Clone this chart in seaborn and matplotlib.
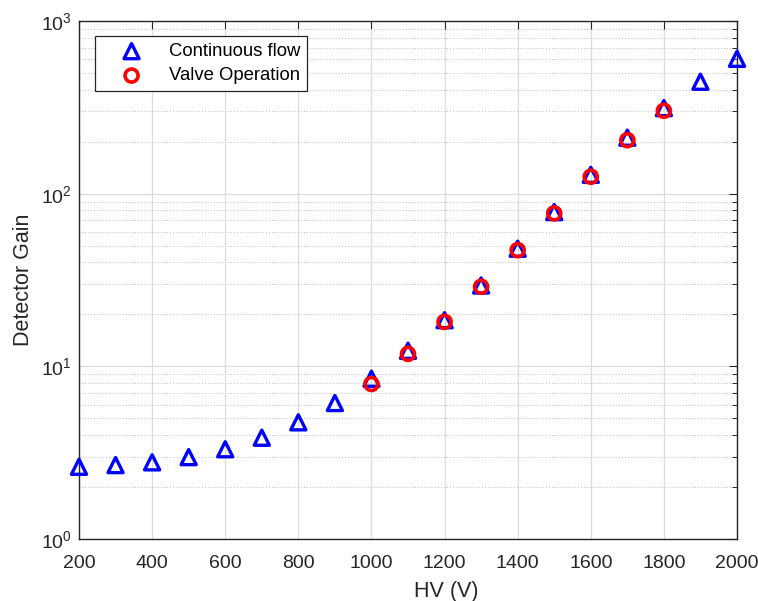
import matplotlib
matplotlib.use("Agg")
import matplotlib.pyplot as plt
import matplotlib.ticker as mticker
import seaborn as sns
import pandas as pd

# Detector gain versus high voltage
hv_continuous = [200, 300, 400, 500, 600, 700, 800, 900, 1000, 1100,
                 1200, 1300, 1400, 1500, 1600, 1700, 1800, 1900, 2000]
gain_continuous = [2.62, 2.68, 2.78, 2.98, 3.31, 3.86, 4.74, 6.13, 8.48, 12.3,
                   18.5, 29.4, 48.0, 78.2, 128.6, 211, 313, 445, 604]

hv_valve = [1000, 1100, 1200, 1300, 1400, 1500, 1600, 1700, 1800]
gain_valve = [7.9, 11.8, 18.1, 28.9, 47.1, 76.9, 125.3, 204, 302]

x_ticks = [200, 400, 600, 800, 1000, 1200, 1400, 1600, 1800, 2000]

df_cont = pd.DataFrame({"HV": hv_continuous, "Gain": gain_continuous})
df_valve = pd.DataFrame({"HV": hv_valve, "Gain": gain_valve})

sns.set_theme(style="white")
plt.rcParams["font.family"] = ["Liberation Sans", "DejaVu Sans"]
plt.rcParams["mathtext.fontset"] = "custom"
plt.rcParams["mathtext.rm"] = "Liberation Sans"

text_color = "#262626"
axis_color = "#262626"

fig = plt.figure(figsize=(7.58, 6.01), dpi=100)
ax = fig.add_axes([79 / 758, 62 / 601, (737 - 79) / 758, (539 - 21) / 601])

sns.scatterplot(data=df_cont, x="HV", y="Gain", ax=ax, marker="^", s=118,
                facecolors="none", edgecolor="#0000ff", linewidth=2.4,
                label="Continuous flow", zorder=3, clip_on=False)
sns.scatterplot(data=df_valve, x="HV", y="Gain", ax=ax, marker="o", s=88,
                facecolors="none", edgecolor="#ff0000", linewidth=2.6,
                label="Valve Operation", zorder=4, clip_on=False)

ax.set_yscale("log")
ax.set_xlim(200, 2000)
ax.set_ylim(1, 1000)
ax.set_xticks(x_ticks)
ax.set_xticklabels([str(v) for v in x_ticks])
ax.yaxis.set_major_locator(mticker.LogLocator(base=10, numticks=10))
ax.yaxis.set_minor_locator(mticker.LogLocator(base=10, subs=range(2, 10), numticks=20))
ax.yaxis.set_minor_formatter(mticker.NullFormatter())

ax.grid(True, which="major", axis="both", color="#dcdcdc", linestyle="-", linewidth=0.9)
ax.grid(True, which="minor", axis="y", color="#bdbdbd", linestyle=(0, (1, 2)), linewidth=0.7)
ax.set_axisbelow(True)

for side in ["left", "right", "top", "bottom"]:
    ax.spines[side].set_visible(True)
    ax.spines[side].set_color(axis_color)
    ax.spines[side].set_linewidth(1.0)

ax.tick_params(which="both", direction="in", top=True, right=True,
               colors=axis_color, labelcolor=text_color, labelsize=14)
ax.tick_params(which="major", length=6, width=0.8)
ax.tick_params(which="minor", length=3.5, width=0.7)
ax.tick_params(axis="x", pad=11.5)
ax.tick_params(axis="y", pad=5)

ax.set_xlabel("HV (V)", fontsize=15.5, color=text_color)
ax.set_ylabel("Detector Gain", fontsize=15.5, color=text_color)
ax.xaxis.set_label_coords(0.558, -0.081)
ax.yaxis.set_label_coords(-0.068, 0.5)

leg = ax.legend(loc="upper left", bbox_to_anchor=((95 - 79) / 658, (539 - 36) / 518),
                borderaxespad=0, frameon=True, fancybox=False, fontsize=13.3,
                handletextpad=0.42, borderpad=0.38, labelspacing=0.4,
                handlelength=3.2)
leg.get_frame().set_edgecolor(axis_color)
leg.get_frame().set_linewidth(0.9)
leg.get_frame().set_facecolor("white")
leg.get_frame().set_alpha(1)
for t in leg.get_texts():
    t.set_color("black")

fig.savefig("out.png", dpi=100)
